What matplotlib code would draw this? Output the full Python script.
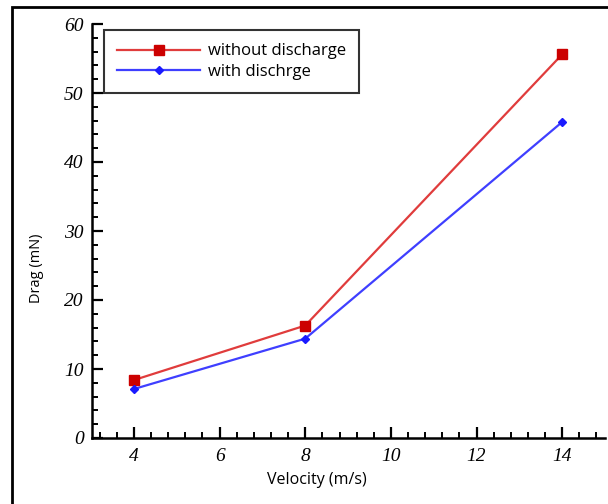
import matplotlib
matplotlib.use("Agg")
import matplotlib.pyplot as plt
from matplotlib.patches import Rectangle
from matplotlib.ticker import MultipleLocator

velocity = [4, 8, 14]
drag_without = [8.4, 16.3, 55.6]
drag_with = [7.1, 14.4, 45.8]
labels = ["without discharge", "with dischrge"]

fig = plt.figure(figsize=(6.08, 5.04), dpi=100)
ax = fig.add_axes([92/608, 66/504, 513/608, 414/504])

ax.plot(velocity, drag_without, color="#e03c3c", lw=1.6, marker="s", ms=7,
        mfc="#cc0000", mec="#cc0000", label=labels[0])
ax.plot(velocity, drag_with, color="#3f3fff", lw=1.6, marker="D", ms=4.5,
        mfc="#1a1aff", mec="#1a1aff", label=labels[1])

ax.set_xlim(3.02, 15.0)
ax.set_ylim(0, 60)
ax.xaxis.set_major_locator(MultipleLocator(2))
ax.xaxis.set_minor_locator(MultipleLocator(0.4))
ax.yaxis.set_major_locator(MultipleLocator(10))
ax.yaxis.set_minor_locator(MultipleLocator(2))
ax.spines["top"].set_visible(False)
ax.spines["right"].set_visible(False)
for s in ("left", "bottom"):
    ax.spines[s].set_linewidth(1.8)
ax.tick_params(which="major", direction="in", length=8, width=1.6)
ax.tick_params(which="minor", direction="in", length=4.5, width=1.4)
ax.tick_params(axis="y", pad=6)
ax.tick_params(axis="x", pad=7)
for lab in ax.get_xticklabels() + ax.get_yticklabels():
    lab.set_family("Liberation Serif")
    lab.set_style("italic")
    lab.set_fontsize(14)

fig.text(317/608, 1 - 480/504, "Velocity (m/s)", fontsize=11.5,
         family="Open Sans", ha="center", va="center")
fig.text(37/608, 1 - 268/504, "Drag (mN)", fontsize=10.5, rotation=90,
         family="Open Sans", ha="center", va="center")

leg = ax.legend(loc="upper left", bbox_to_anchor=(0.023, 0.9855),
                prop={"family": "Open Sans", "size": 12}, frameon=True,
                fancybox=False, edgecolor="black", handlelength=5.0,
                borderpad=0.8, labelspacing=0.28, handletextpad=0.45,
                borderaxespad=0.0)
leg.get_frame().set_linewidth(1.5)

fig.patches.append(Rectangle((12/608, -0.1), 1.2, (504-7)/504 + 0.1,
                             transform=fig.transFigure, fill=False,
                             edgecolor="black", linewidth=2))

fig.savefig("out.png", dpi=100)
